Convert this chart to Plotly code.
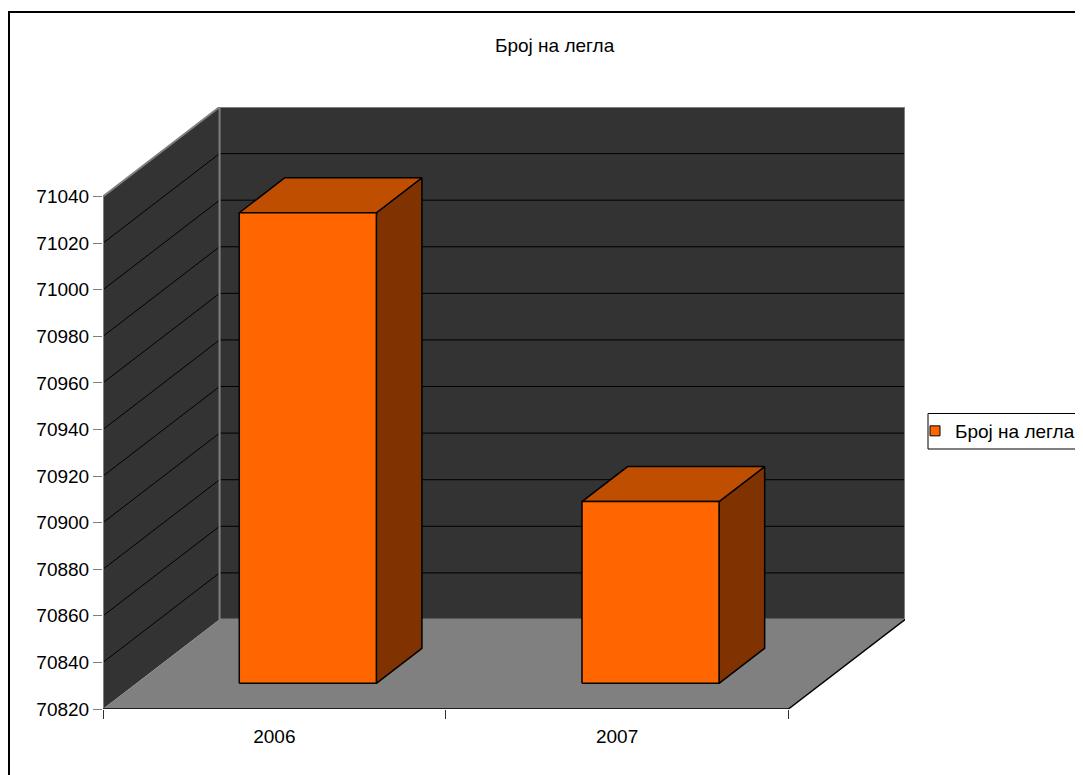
import plotly.graph_objects as go

# ---- data ----
categories = ["2006", "2007"]
series_name = "Број на легла"
values = [71022, 70898]
y_ticks = [70820, 70840, 70860, 70880, 70900, 70920, 70940, 70960, 70980, 71000, 71020, 71040]
title_text = "Број на легла"

# ---- 3D look parameters (oblique projection) ----
Y0 = y_ticks[0]
YTOP = y_ticks[-1]
DX = 0.3401   # category units per full depth
DY = 38.43    # value units per full depth
D0, D1 = 0.287, 0.678  # bar depth span
HW = 0.2               # bar half width (category units)

FONT = "Liberation Sans, Arial, sans-serif"
WALL = "#333333"
FLOOR = "#808080"
EDGE = "#808080"
FRONT = "#FF6600"
TOP = "#C04E00"
SIDE = "#803300"


def P(c, v, d):
    return c + d * DX, v + d * DY


def poly(pts):
    xs, ys = zip(*[P(*p) for p in pts])
    return list(xs) + [xs[0]], list(ys) + [ys[0]]


def path(pts):
    xs, ys = zip(*[P(*p) for p in pts])
    return list(xs), list(ys)


fig = go.Figure()
cmin, cmax = -0.5, len(categories) - 0.5


def add_fill(pts, color, line_color=None, line_width=0):
    xs, ys = poly(pts)
    fig.add_trace(go.Scatter(
        x=xs, y=ys, mode="lines", fill="toself", fillcolor=color,
        line=dict(color=line_color or color, width=line_width),
        showlegend=False, hoverinfo="skip"))


def add_line(pts, color, width):
    xs, ys = path(pts)
    fig.add_trace(go.Scatter(x=xs, y=ys, mode="lines",
                             line=dict(color=color, width=width),
                             showlegend=False, hoverinfo="skip"))


# walls and floor
add_fill([(cmin, Y0, 1), (cmax, Y0, 1), (cmax, YTOP, 1), (cmin, YTOP, 1)], WALL)
add_fill([(cmin, Y0, 0), (cmin, Y0, 1), (cmin, YTOP, 1), (cmin, YTOP, 0)], WALL)
add_fill([(cmin, Y0, 0), (cmax, Y0, 0), (cmax, Y0, 1), (cmin, Y0, 1)], FLOOR)

# gridlines
gx, gy = [], []
for v in y_ticks[1:-1]:
    xs, ys = path([(cmin, v, 0), (cmin, v, 1), (cmax, v, 1)])
    gx += xs + [None]
    gy += ys + [None]
fig.add_trace(go.Scatter(x=gx, y=gy, mode="lines", line=dict(color="#000000", width=1),
                         showlegend=False, hoverinfo="skip"))

# wall edges
add_line([(cmin, Y0, 0), (cmin, YTOP, 0), (cmin, YTOP, 1), (cmax, YTOP, 1), (cmax, Y0, 1)], EDGE, 2)
add_line([(cmin, YTOP, 1), (cmin, Y0, 1), (cmax, Y0, 1)], EDGE, 2)
# floor front edges
add_line([(cmin, Y0, 0), (cmax, Y0, 0), (cmax, Y0, 1)], "#000000", 1.5)

# bars
for i, v in enumerate(values):
    l, r = i - HW, i + HW
    add_fill([(r, Y0, D0), (r, Y0, D1), (r, v, D1), (r, v, D0)], SIDE, "#000000", 1.5)
    add_fill([(l, v, D0), (r, v, D0), (r, v, D1), (l, v, D1)], TOP, "#000000", 1.5)
    add_fill([(l, Y0, D0), (r, Y0, D0), (r, v, D0), (l, v, D0)], FRONT, "#000000", 1.5)

# legend entry
fig.add_trace(go.Scatter(x=[None], y=[None], mode="markers", name=series_name,
                         marker=dict(symbol="square", size=10, color=FRONT,
                                     line=dict(color="#000000", width=1)),
                         showlegend=True))

OFF = 8  # page body margin
W, H = 1083 - OFF, 775 - OFF
# plot area in page pixels: x 103..905, y 107..709
L = 103 - OFF
T = 107 - OFF
R = W - (905 - OFF)
B = H - (709 - OFF)
pw, ph = W - L - R, H - T - B


def px_to_paper(x, y):
    return ((x - OFF) - L) / pw, ((H - B) - (y - OFF)) / ph


tx, ty = px_to_paper(555, 45)
bx0, by0 = px_to_paper(9, 12)
bx1, by1 = px_to_paper(1100, 790)
lx, ly = px_to_paper(915, 431)
lbx0, lby0 = px_to_paper(928, 413.5)
lbx1, lby1 = px_to_paper(1090, 449)

fig.update_layout(
    width=W, height=H,
    margin=dict(l=L, r=R, t=T, b=B, pad=0, autoexpand=False),
    paper_bgcolor="#FFFFFF", plot_bgcolor="rgba(0,0,0,0)",
    font=dict(family=FONT, size=19, color="#000000"),
    showlegend=True,
    legend=dict(x=lx, y=ly, xanchor="left", yanchor="middle",
                borderwidth=0, bgcolor="rgba(0,0,0,0)",
                font=dict(family=FONT, size=19, color="#000000")),
    xaxis=dict(range=[cmin, cmax + DX], tickvals=list(range(len(categories))),
               ticktext=categories, ticks="", ticklabelstandoff=14,
               showgrid=False, zeroline=False,
               showline=False, fixedrange=True, automargin=False),
    xaxis2=dict(range=[cmin, cmax + DX], overlaying="x",
                tickvals=[cmin + k for k in range(len(categories) + 1)],
                showticklabels=False, ticks="outside", ticklen=9, tickwidth=1,
                tickcolor="#333333", showgrid=False, zeroline=False,
                showline=False, side="bottom", fixedrange=True, automargin=False),
    yaxis=dict(range=[Y0, YTOP + DY], tickvals=y_ticks,
               ticktext=[str(t) for t in y_ticks], ticks="outside",
               ticklen=9, tickwidth=1, tickcolor="#808080", showgrid=False,
               zeroline=False, showline=False, fixedrange=True, automargin=False),
    annotations=[dict(text=title_text, x=tx, y=ty, xref="paper", yref="paper",
                      xanchor="center", yanchor="middle", showarrow=False,
                      font=dict(family=FONT, size=19, color="#000000"))],
    shapes=[dict(type="rect", xref="paper", yref="paper", x0=bx0, y0=by1,
                 x1=bx1, y1=by0, line=dict(color="#000000", width=2),
                 fillcolor="rgba(0,0,0,0)", layer="below"),
            dict(type="rect", xref="paper", yref="paper", x0=lbx0, y0=lby1,
                 x1=lbx1, y1=lby0, line=dict(color="#000000", width=1),
                 fillcolor="rgba(0,0,0,0)", layer="below")],
)
# dummy trace to activate xaxis2 ticks
fig.add_trace(go.Scatter(x=[None], y=[None], xaxis="x2", showlegend=False, hoverinfo="skip"))

fig.write_html("out.html")
